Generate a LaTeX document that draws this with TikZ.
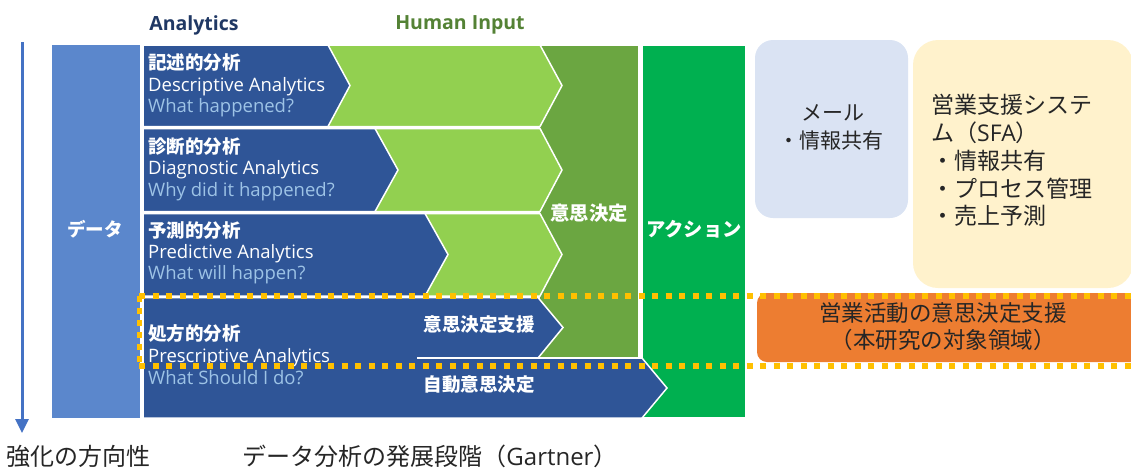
\documentclass[tikz,border=0pt]{standalone}
\usepackage{fontspec}
\setmainfont{Open Sans}
\newfontfamily\jp{Noto Sans CJK JP}
\usetikzlibrary{arrows.meta}
\definecolor{dblue}{HTML}{2F5597}
\definecolor{mblue}{HTML}{5B87CC}
\definecolor{lgreen}{HTML}{92D050}
\definecolor{dgreen}{HTML}{6BA641}
\definecolor{agreen}{HTML}{00B050}
\definecolor{qblue}{HTML}{9DC3E6}
\definecolor{gold}{HTML}{FFC000}
\definecolor{orng}{HTML}{ED7D31}
\definecolor{lbluebox}{HTML}{DAE3F3}
\definecolor{lyellow}{HTML}{FFF2CC}
\definecolor{navy}{HTML}{203864}
\definecolor{hgreen}{HTML}{548235}
\definecolor{arrowblue}{HTML}{4472C4}
\definecolor{txtdark}{HTML}{262626}
\tikzset{
  blk/.style={draw=white, line width=1.5pt},
  jph/.style={font=\jp\bfseries\fontsize{18.5}{20}\selectfont, text=white, anchor=base west, inner sep=0pt},
  enm/.style={font=\fontsize{18.5}{20}\selectfont, text=white, anchor=base west, inner sep=0pt},
  enq/.style={font=\fontsize{18.5}{20}\selectfont, text=qblue, anchor=base west, inner sep=0pt},
  jpw/.style={font=\jp\bfseries\fontsize{18.5}{20}\selectfont, text=white, inner sep=0pt},
  jpc/.style={font=\jp\bfseries\fontsize{19.3}{20}\selectfont, text=white, inner sep=0pt},
  hdr/.style={font=\bfseries\fontsize{19.5}{22}\selectfont, inner sep=0pt},
  jpr/.style={font=\jp\fontsize{21}{28}\selectfont, text=txtdark, inner sep=0pt},
  jpy/.style={font=\jp\fontsize{23}{28}\selectfont, text=txtdark, anchor=west, inner sep=0pt},
  captext/.style={font=\jp\fontsize{24}{26}\selectfont, text=txtdark, inner sep=0pt},
  dots/.style={gold, line width=6pt, dash pattern=on 6pt off 7.5pt},
}
\begin{document}
\begin{tikzpicture}[x=1pt,y=-1pt]
\useasboundingbox (0,0) rectangle (1131,469);
% columns
\fill[mblue] (52,45) rectangle (140,418);
\fill[dgreen, blk] (539,45) rectangle (639,357.5);
\fill[agreen, blk] (642,45) rectangle (746,418);
% light green chevrons
\fill[lgreen, blk] (143,45) -- (540,45) -- (562,85.5) -- (540,126.5) -- (143,126.5) -- cycle;
\fill[lgreen, blk] (143,128.5) -- (540,128.5) -- (562,170) -- (540,211.5) -- (143,211.5) -- cycle;
\fill[lgreen, blk] (143,213.5) -- (540,213.5) -- (562,254.5) -- (540,296) -- (143,296) -- cycle;
% blue chevrons
\fill[dblue, blk] (143,45) -- (328,45) -- (350,85.5) -- (328,126.5) -- (143,126.5) -- cycle;
\fill[dblue, blk] (143,128.5) -- (375,128.5) -- (398,170) -- (375,211.5) -- (143,211.5) -- cycle;
\fill[dblue, blk] (143,213.5) -- (425,213.5) -- (448,254.5) -- (425,296) -- (143,296) -- cycle;
\fill[dblue, blk] (143,297.5) -- (538,297.5) -- (563,327.5) -- (538,358) -- (642,358) -- (667,388) -- (642,418) -- (143,418) -- cycle;
\coordinate (sepA) at (417,358);
\coordinate (sepB) at (538,358);
\draw[white, line width=1.5pt] (sepA) -- (sepB);
% headers
\node[hdr, text=navy] (hA) at (194,25) {Analytics};
\node[hdr, text=hgreen] (hH) at (460,25) {Human Input};
% data column
\node[jpw] (data) at (95,229) {データ};
% row texts
\node[jph] (r1a) at (148,69) {記述的分析};
\node[enm] (r1b) at (148,91.5) {Descriptive Analytics};
\node[enq] (r1c) at (148,112.5) {What happened?};
\node[jph] (r2a) at (148,153.5) {診断的分析};
\node[enm] (r2b) at (148,174.5) {Diagnostic Analytics};
\node[enq] (r2c) at (148,196) {Why did it happened?};
\node[jph] (r3a) at (148,237) {予測的分析};
\node[enm] (r3b) at (148,258.5) {Predictive Analytics};
\node[enq] (r3c) at (148,279.5) {What will happen?};
\node[jph] (r4a) at (148,340) {処方的分析};
\node[enm] (r4b) at (148,362.5) {Prescriptive Analytics};
\node[enq] (r4c) at (148,384.5) {What Should I do?};
\node[jpw] (sup) at (479,325) {意思決定支援};
\node[jpw] (auto) at (479,385) {自動意思決定};
\node[jpc] (dec) at (589,213) {意思決定};
\node[jpc] (act) at (694,229) {アクション};
% right boxes
\node[fill=lbluebox, rounded corners=18pt, minimum width=153pt, minimum height=178pt, inner sep=0pt] (mail) at (831.5,129) {};
\node[jpr] (mail1) at (833,113) {メール};
\node[jpr] (mail2) at (831,141) {・情報共有};
\node[fill=lyellow, rounded corners=25pt, minimum width=220pt, minimum height=248pt, inner sep=0pt] (sfa) at (1023,164) {};
\node[jpy] (s1) at (931,105) {営業支援システ};
\node[jpy] (s2) at (931,133) {ム（{\fontspec{Open Sans}SFA}）};
\node[jpy] (s3) at (931,161) {・情報共有};
\node[jpy] (s4) at (931,189) {・プロセス管理};
\node[jpy] (s5) at (931,216) {・売上予測};
\node[fill=orng, rounded corners=10pt, minimum width=390pt, minimum height=69pt, inner sep=0pt] (org) at (952,327.5) {};
\node[font=\jp\fontsize{22.5}{27}\selectfont, text=txtdark, align=center, inner sep=0pt] (orgt) at (943,327) {営業活動の意思決定支援\\（本研究の対象領域）};
% dotted region
\coordinate (d1) at (1135,296);
\coordinate (d2) at (139,296);
\coordinate (d3) at (139,366);
\coordinate (d4) at (1135,366);
\draw[dots] (d2) -- (d1);
\draw[dots] (d3) -- (d4);
\draw[gold, line width=5pt, dash pattern=on 6pt off 6pt] (d2) -- (d3);
% arrow
\coordinate (aS) at (22,42);
\coordinate (aE) at (22,433);
\draw[arrowblue, line width=3pt, -{Triangle[length=14pt,width=13pt]}] (aS) -- (aE);
% captions
\node[captext] (cap1) at (78,456) {強化の方向性};
\node[captext] (cap2) at (430,456) {データ分析の発展段階（{\fontspec{Open Sans}Gartner}）};
\end{tikzpicture}
\end{document}
